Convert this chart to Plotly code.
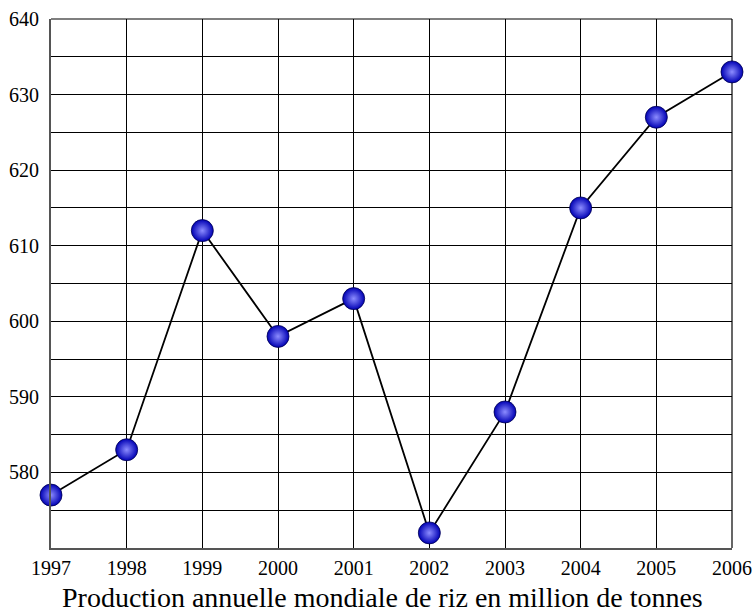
import plotly.graph_objects as go

years = [1997, 1998, 1999, 2000, 2001, 2002, 2003, 2004, 2005, 2006]
production = [577, 583, 612, 598, 603, 572, 588, 615, 627, 633]
y_ticks = [580, 590, 600, 610, 620, 630, 640]
x_title = "Production annuelle mondiale de riz en million de tonnes"

font_family = "Liberation Serif, DejaVu Serif, serif"

fig = go.Figure()
fig.add_trace(go.Scatter(
    x=years, y=production, mode="lines+markers",
    line=dict(color="black", width=1.8),
    marker=dict(size=22, color="#0000b4",
                gradient=dict(type="radial", color="#8c8cff"),
                line=dict(color="#000050", width=0.8)),
    cliponaxis=False, showlegend=False, hoverinfo="skip",
))

fig.update_layout(
    width=754, height=612,
    margin=dict(l=51, r=22, t=19, b=64),
    plot_bgcolor="white", paper_bgcolor="white",
    font=dict(family=font_family, size=20, color="black"),
)
fig.update_xaxes(
    range=[1997, 2006], tickvals=years, ticktext=[str(y) for y in years],
    showgrid=True, gridcolor="black", gridwidth=1,
    showline=True, linecolor="#555", linewidth=2, mirror=False,
    zeroline=False, ticks="", ticklen=0, automargin=False,
    ticklabelstandoff=1,
)
fig.update_yaxes(
    range=[570, 640], tickvals=y_ticks,
    showgrid=True, gridcolor="black", gridwidth=1,
    minor=dict(tick0=570, dtick=5, showgrid=True, gridcolor="black", gridwidth=1),
    showline=True, linecolor="#555", linewidth=2,
    zeroline=False, ticks="", ticklen=0, automargin=False,
    ticklabelstandoff=6,
)
# top and right borders
fig.add_shape(type="line", xref="paper", yref="paper", x0=0, x1=1, y0=1, y1=1,
              line=dict(color="black", width=1.2), layer="below")
fig.add_shape(type="line", xref="paper", yref="paper", x0=1, x1=1, y0=0, y1=1,
              line=dict(color="black", width=1.2), layer="below")
fig.add_annotation(text=x_title, xref="paper", yref="paper", x=0.4865, y=0,
                   xanchor="center", yanchor="middle", yshift=-49, showarrow=False,
                   font=dict(size=28, family=font_family))

fig.write_html("out.html", config={"displayModeBar": False},
               post_script="document.body.style.margin='0';document.body.style.overflow='hidden';")
